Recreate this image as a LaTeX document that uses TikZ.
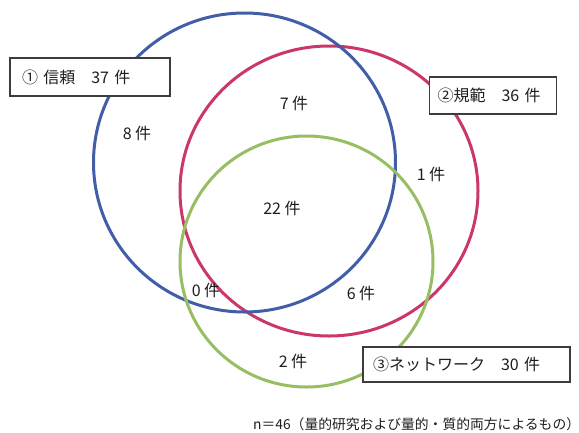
\documentclass[tikz,border=0pt]{standalone}
\usepackage{fontspec}
\setmainfont{Noto Sans CJK JP}
\definecolor{cblue}{RGB}{66,94,168}
\definecolor{cred}{RGB}{204,55,105}
\definecolor{cgreen}{RGB}{152,190,100}
\definecolor{cbox}{RGB}{60,60,60}
\definecolor{ctext}{RGB}{30,30,30}
\tikzset{
  ring/.style={line width=3pt},
  countlbl/.style={text=ctext, font=\fontsize{16pt}{19pt}\selectfont, inner sep=0pt},
  setbox/.style={draw=cbox, fill=white, line width=1.1pt, text=ctext, align=left,
    font=\fontsize{16pt}{19pt}\selectfont, inner ysep=0pt},
  notelbl/.style={text=ctext, font=\fontsize{13.8pt}{16pt}\selectfont, inner sep=0pt}
}
\begin{document}
\begin{tikzpicture}[x=1pt,y=-1pt]
\useasboundingbox (0,0) rectangle (579,432);
% circles
\draw[ring, cred] (329,191) ellipse [x radius=149pt, y radius=145pt];
\draw[ring, cblue] (244.5,162.5) ellipse [x radius=151pt, y radius=149.5pt];
\draw[ring, cgreen] (306.5,261.5) ellipse [x radius=126.5pt, y radius=125.5pt];
% boxes
\node[setbox, inner xsep=12pt, text width=136pt, minimum height=38pt] (trust) at (90,77) {① 信頼\hspace{1em}37 件};
\node[setbox, inner xsep=8pt, text width=111pt, minimum height=37pt] (norm) at (493,95.5) {②規範\hspace{1em}36 件};
\node[setbox, inner xsep=10pt, text width=187pt, minimum height=35pt] (net) at (466.5,364.5) {③ネットワーク\hspace{1em}30 件};
% counts
\node[countlbl] (c8) at (137,133) {8 件};
\node[countlbl] (c7) at (294,103) {7 件};
\node[countlbl] (c1) at (431,174) {1 件};
\node[countlbl] (c22) at (282,208) {22 件};
\node[countlbl] (c0) at (206,290) {0 件};
\node[countlbl] (c6) at (361,293) {6 件};
\node[countlbl] (c2) at (293,361) {2 件};
% note
\node[notelbl, anchor=west] (note) at (253,424) {n＝46（量的研究および量的・質的両方によるもの）};
\end{tikzpicture}
\end{document}
